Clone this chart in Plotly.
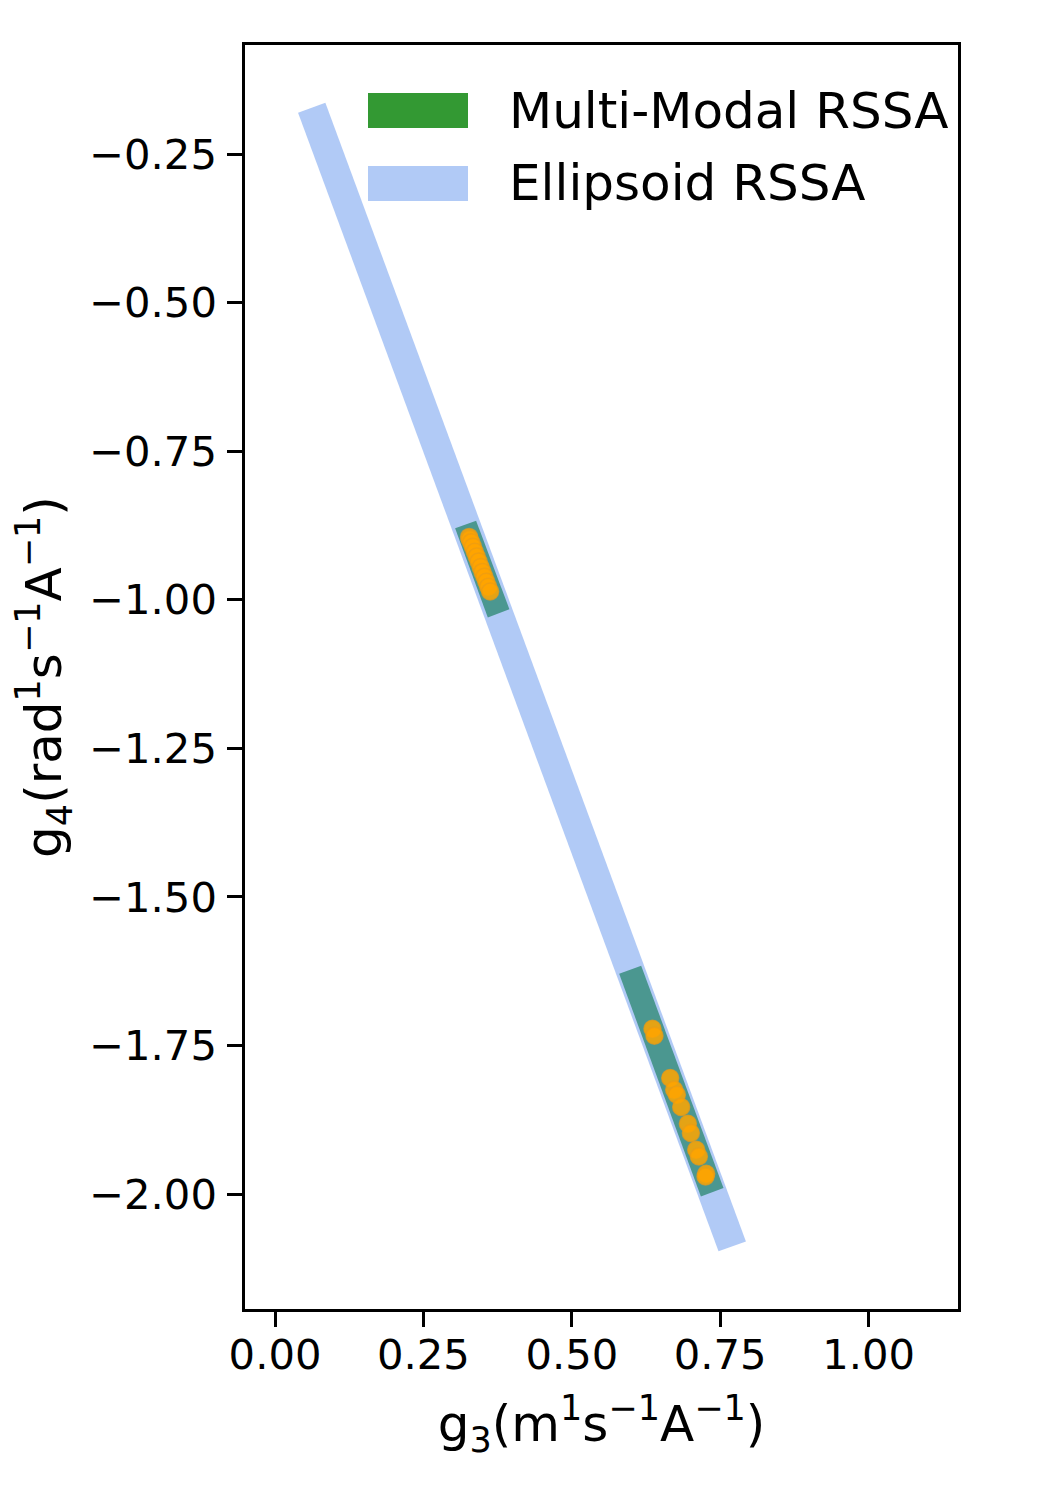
import plotly.graph_objects as go

# ---- data ----
ellipsoid_x = [0.0388, 0.0848, 0.7934, 0.7472]
ellipsoid_y = [-0.1800, -0.1632, -2.0797, -2.0965]

mm1_x = [0.3034, 0.3388, 0.3949, 0.3585]
mm1_y = [-0.8793, -0.8670, -1.0156, -1.0297]

mm2_x = [0.5798, 0.6169, 0.7556, 0.7175]
mm2_y = [-1.6293, -1.6158, -1.9899, -2.0040]

pts_x = [0.327, 0.328, 0.3305, 0.3334, 0.3366, 0.3398, 0.343, 0.3465, 0.3496, 0.3528, 0.356, 0.3592, 0.3624,
         0.6359, 0.6393, 0.6658, 0.6725, 0.677, 0.6843, 0.6956, 0.7006, 0.7096, 0.7141, 0.7264, 0.7253]
pts_y = [-0.894, -0.8976, -0.9032, -0.9104, -0.9189, -0.9271, -0.9354, -0.9446, -0.9529, -0.9611, -0.9694, -0.9778, -0.986,
         -1.7218, -1.7336, -1.8048, -1.8245, -1.8329, -1.8536, -1.8817, -1.8973, -1.9254, -1.9367, -1.9658, -1.9703]

x_ticks = [0.0, 0.25, 0.5, 0.75, 1.0]
x_ticktext = ["0.00", "0.25", "0.50", "0.75", "1.00"]
y_ticks = [-0.25, -0.5, -0.75, -1.0, -1.25, -1.5, -1.75, -2.0]
y_ticktext = ["\u22120.25", "\u22120.50", "\u22120.75", "\u22121.00", "\u22121.25", "\u22121.50", "\u22121.75", "\u22122.00"]

legend_labels = ["Multi-Modal RSSA", "Ellipsoid RSSA"]

GREEN = "rgba(0,128,0,0.8)"
BLUE = "rgba(100,149,237,0.5)"
FONT = "DejaVu Sans"

fig = go.Figure()

for xs, ys in [(mm1_x, mm1_y), (mm2_x, mm2_y)]:
    fig.add_trace(go.Scatter(x=xs, y=ys, fill="toself", fillcolor=GREEN, mode="lines",
                             line=dict(width=0), hoverinfo="skip", showlegend=False))

fig.add_trace(go.Scatter(x=ellipsoid_x, y=ellipsoid_y, fill="toself", fillcolor=BLUE, mode="lines",
                         line=dict(width=0), hoverinfo="skip", showlegend=False))

fig.add_trace(go.Scatter(x=pts_x, y=pts_y, mode="markers",
                         marker=dict(size=17, color="rgba(255,165,0,0.85)",
                                     line=dict(width=1.5, color="rgba(235,155,20,0.7)")),
                         showlegend=False))

# Page body has an 8px offset; positions below are in page pixels of the reference
OFF = 8
W, H = 1050, 1500
L, T = 245 - OFF, 45 - OFF
RIGHT_EDGE, BOTTOM_EDGE = 958 - OFF, 1309 - OFF
R, B = W - RIGHT_EDGE, H - BOTTOM_EDGE
pw, ph = W - L - R, H - T - B

def px(xp):
    return (xp - OFF - L) / pw

def py(yp):
    return (BOTTOM_EDGE - (yp - OFF)) / ph

legend_colors = ["rgb(51,153,51)", "rgb(177,202,246)"]
legend_rows = [(93, 128), (166, 201)]
for (y0, y1), col, lab in zip(legend_rows, legend_colors, legend_labels):
    fig.add_shape(type="rect", xref="paper", yref="paper",
                  x0=px(368), x1=px(468), y0=py(y1), y1=py(y0),
                  fillcolor=col, line=dict(width=0), layer="above")
    fig.add_annotation(xref="paper", yref="paper", x=px(507), y=py((y0 + y1) / 2),
                       text=lab, showarrow=False, xanchor="left", yanchor="middle",
                       font=dict(family=FONT, size=50, color="black"))

axis_common = dict(showgrid=False, zeroline=False, showline=True, linecolor="black", linewidth=3.3,
                   mirror=True, ticks="outside", ticklen=14.6, tickwidth=3.3, tickcolor="black",
                   tickfont=dict(family=FONT, size=41.7, color="black"), automargin=False)

fig.update_layout(
    width=W, height=H,
    margin=dict(l=L, r=R, t=T, b=B, pad=0),
    paper_bgcolor="white", plot_bgcolor="white",
    font=dict(family=FONT, color="black"),
    xaxis=dict(range=[-0.0506, 1.1507], tickmode="array", tickvals=x_ticks, ticktext=x_ticktext,
               title=dict(text="g<sub>3</sub>(m<sup>1</sup>s<sup>\u22121</sup>A<sup>\u22121</sup>)",
                          font=dict(family=FONT, size=50), standoff=29),
               ticklabelstandoff=-8, **axis_common),
    yaxis=dict(range=[-2.1935, -0.0661], tickmode="array", tickvals=y_ticks, ticktext=y_ticktext,
               title=dict(text="g<sub>4</sub>(rad<sup>1</sup>s<sup>\u22121</sup>A<sup>\u22121</sup>)",
                          font=dict(family=FONT, size=50), standoff=32),
               ticklabelstandoff=2, **axis_common),
)

fig.write_html("out.html")
